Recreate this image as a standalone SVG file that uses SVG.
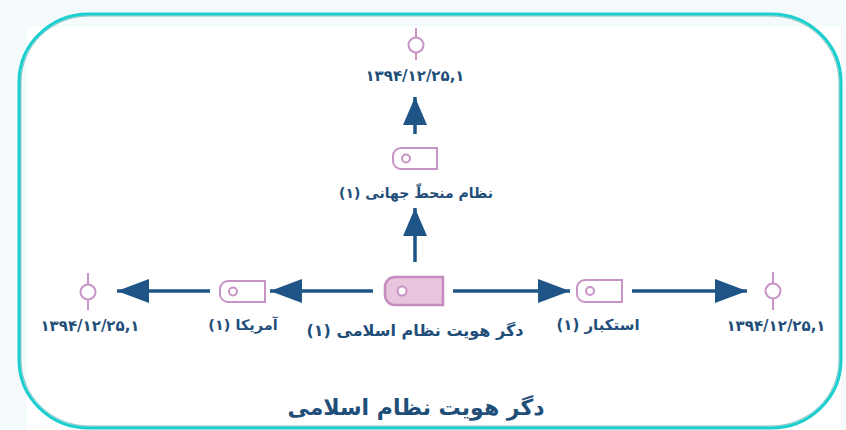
<svg xmlns="http://www.w3.org/2000/svg" width="846" height="430" viewBox="0 0 846 430">
  <style>
    .tag { fill: #ffffff; stroke: #c893c5; stroke-width: 2; }
    .tagMain { fill: #e9c4dd; stroke: #c58cbf; stroke-width: 2.5; }
    .hole { fill: #ffffff; stroke: #c893c5; stroke-width: 2; }
    .sym { fill: #ffffff; stroke: #c893c5; stroke-width: 2; }
    .arrow { stroke: #1f5586; stroke-width: 3.5; fill: none; }
    .lbl { font-family: "DejaVu Sans", "Noto Sans", sans-serif; font-weight: bold; fill: #1f4e79; text-anchor: middle; }
    .date { font-size: 15px; letter-spacing: 2.6px; direction: ltr; }
    .fa { direction: rtl; font-size: 14px; }
  </style>
  <defs>
    <marker id="ah" markerUnits="userSpaceOnUse" markerWidth="32" markerHeight="24" refX="32" refY="12" orient="auto">
      <path d="M0,0 L32,12 L0,24 Z" fill="#1f5586"/>
    </marker>
    <marker id="ahv" markerUnits="userSpaceOnUse" markerWidth="28" markerHeight="24" refX="28" refY="12" orient="auto">
      <path d="M0,0 L28,12 L0,24 Z" fill="#1f5586"/>
    </marker>
  </defs>

  <rect x="0" y="0" width="846" height="430" fill="#f5fbfd"/>
  <rect x="27" y="27" width="814" height="403" fill="#ffffff"/>
  <rect x="19" y="14" width="822" height="414" rx="70" ry="68" fill="none" stroke="#1bcfcf" stroke-width="3"/>
  <rect x="21" y="16" width="818" height="410" rx="68" ry="66" fill="none" stroke="#0c8a8a" stroke-width="1" opacity="0.5"/>

  <g id="connectors">
    <line class="arrow" x1="373" y1="291" x2="270" y2="291" marker-end="url(#ah)"/>
    <line class="arrow" x1="210" y1="291" x2="117" y2="291" marker-end="url(#ah)"/>
    <line class="arrow" x1="453" y1="291" x2="570" y2="291" marker-end="url(#ah)"/>
    <line class="arrow" x1="632" y1="291" x2="747" y2="291" marker-end="url(#ah)"/>
    <line class="arrow" x1="415" y1="262" x2="415" y2="208" marker-end="url(#ahv)"/>
    <line class="arrow" x1="415" y1="134" x2="415" y2="97" marker-end="url(#ahv)"/>
  </g>

  <g id="node-main">
    <path class="tagMain" d="M443,277 H395 A10,10 0 0 0 385,287 V295 A10,10 0 0 0 395,305 H443 Z"/>
    <circle class="hole" cx="402" cy="291" r="4.5"/>
    <text class="lbl fa" x="415" y="336" style="font-size:16px">دگر هویت نظام اسلامی (۱)</text>
  </g>

  <g id="node-america">
    <path class="tag" d="M265,281 H228 A8,8 0 0 0 220,289 V294 A8,8 0 0 0 228,302 H265 Z"/>
    <circle class="hole" cx="233" cy="291.5" r="4"/>
    <text class="lbl fa" x="243" y="330" style="font-size:14.5px">آمریکا (۱)</text>
  </g>

  <g id="node-estekbar">
    <path class="tag" d="M622,280 H585 A8,8 0 0 0 577,288 V294 A8,8 0 0 0 585,302 H622 Z"/>
    <circle class="hole" cx="590" cy="291" r="4"/>
    <text class="lbl fa" x="598" y="330" style="font-size:15px">استکبار (۱)</text>
  </g>

  <g id="node-world">
    <path class="tag" d="M437,148 H401 A8,8 0 0 0 393,156 V161 A8,8 0 0 0 401,169 H437 Z"/>
    <circle class="hole" cx="406" cy="158.5" r="4"/>
    <text class="lbl fa" x="416" y="198">نظام منحطّ جهانی (۱)</text>
  </g>

  <g id="node-date-top">
    <line class="sym" x1="416" y1="28" x2="416" y2="60"/>
    <ellipse class="sym" cx="416" cy="45" rx="7.5" ry="7.5"/>
    <text class="lbl date" x="415" y="81">۱۳۹۴/۱۲/۲۵,۱</text>
  </g>

  <g id="node-date-left">
    <line class="sym" x1="88" y1="273" x2="88" y2="310"/>
    <ellipse class="sym" cx="88" cy="292" rx="7.5" ry="7.5"/>
    <text class="lbl date" x="90" y="331">۱۳۹۴/۱۲/۲۵,۱</text>
  </g>

  <g id="node-date-right">
    <line class="sym" x1="773" y1="272" x2="773" y2="310"/>
    <ellipse class="sym" cx="773" cy="291" rx="7.5" ry="7.5"/>
    <text class="lbl date" x="776" y="331">۱۳۹۴/۱۲/۲۵,۱</text>
  </g>

  <g id="title">
    <text class="lbl" x="416" y="415" style="font-size:22px;direction:rtl">دگر هویت نظام اسلامی</text>
  </g>
</svg>
